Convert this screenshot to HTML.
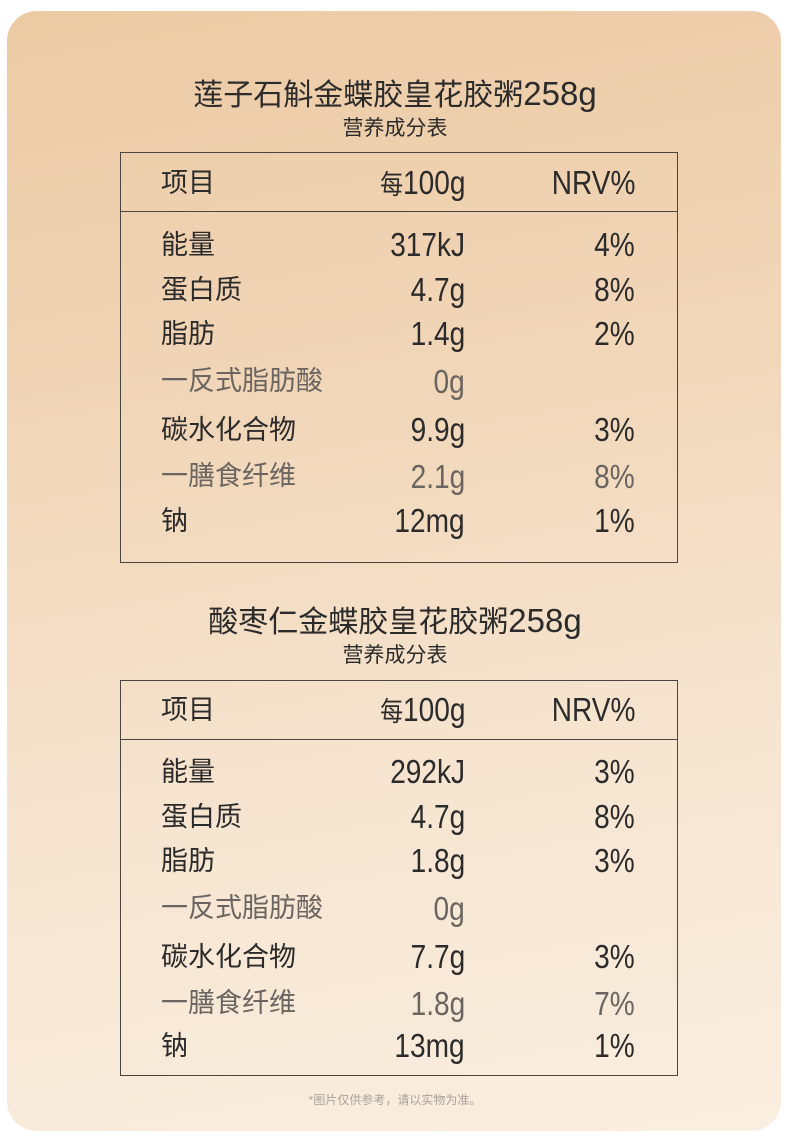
<!DOCTYPE html>
<html><head><meta charset="utf-8"><style>
body{margin:0;width:790px;height:1145px;background:#fff;position:relative;overflow:hidden;font-family:"Liberation Sans","Noto Sans CJK SC",sans-serif;color:#2b2b2b}
.card{position:absolute;left:7px;top:11px;width:774px;height:1120px;border-radius:30px;background:linear-gradient(170deg,#eccaa4 0%,#f1d6b8 35%,#f6e4cf 65%,#faeee0 100%)}
.t{position:absolute;left:0;width:790px;text-align:center;white-space:nowrap}
.box{position:absolute;left:120px;width:556px;border:1px solid #4a4540}
.hl{position:absolute;left:120px;width:558px;height:1px;background:#4a4540}
.lab{position:absolute;left:161px;font-size:27px;line-height:30px;white-space:nowrap}
.v{position:absolute;font-size:33px;line-height:34px;white-space:nowrap;transform:scaleX(.85);transform-origin:right center;text-align:right}
.v1{right:325px}.v2{right:155px}
.lt{color:#6a6560}
</style></head><body>
<div class="card"></div>

<div class="t" style="top:70px;font-size:30px">莲子石斛金蝶胶皇花胶粥<span style="font-size:33px">258g</span></div>
<div class="t" style="top:112px;font-size:21px">营养成分表</div>
<div class="box" style="top:152px;height:409px"></div>
<div class="hl" style="top:211px"></div>
<div class="lab" style="top:168px">项目</div>
<div class="v v1" style="top:166px"><span style="font-size:27px">每</span>100g</div>
<div class="v v2" style="top:166px">NRV%</div>

<div class="lab" style="top:230px">能量</div><div class="v v1" style="top:228px">317kJ</div><div class="v v2" style="top:228px">4%</div>
<div class="lab" style="top:275px">蛋白质</div><div class="v v1" style="top:273px">4.7g</div><div class="v v2" style="top:273px">8%</div>
<div class="lab" style="top:319px">脂肪</div><div class="v v1" style="top:317px">1.4g</div><div class="v v2" style="top:317px">2%</div>
<div class="lab lt" style="top:366px">一反式脂肪酸</div><div class="v v1 lt" style="top:365px">0g</div>
<div class="lab" style="top:415px">碳水化合物</div><div class="v v1" style="top:413px">9.9g</div><div class="v v2" style="top:413px">3%</div>
<div class="lab lt" style="top:461px">一膳食纤维</div><div class="v v1 lt" style="top:460px">2.1g</div><div class="v v2 lt" style="top:460px">8%</div>
<div class="lab" style="top:506px">钠</div><div class="v v1" style="top:504px">12mg</div><div class="v v2" style="top:504px">1%</div>

<div class="t" style="top:597px;font-size:30px">酸枣仁金蝶胶皇花胶粥<span style="font-size:33px">258g</span></div>
<div class="t" style="top:639px;font-size:21px">营养成分表</div>
<div class="box" style="top:680px;height:394px"></div>
<div class="hl" style="top:739px"></div>
<div class="lab" style="top:695px">项目</div>
<div class="v v1" style="top:693px"><span style="font-size:27px">每</span>100g</div>
<div class="v v2" style="top:693px">NRV%</div>

<div class="lab" style="top:757px">能量</div><div class="v v1" style="top:755px">292kJ</div><div class="v v2" style="top:755px">3%</div>
<div class="lab" style="top:802px">蛋白质</div><div class="v v1" style="top:800px">4.7g</div><div class="v v2" style="top:800px">8%</div>
<div class="lab" style="top:846px">脂肪</div><div class="v v1" style="top:844px">1.8g</div><div class="v v2" style="top:844px">3%</div>
<div class="lab lt" style="top:893px">一反式脂肪酸</div><div class="v v1 lt" style="top:892px">0g</div>
<div class="lab" style="top:942px">碳水化合物</div><div class="v v1" style="top:940px">7.7g</div><div class="v v2" style="top:940px">3%</div>
<div class="lab lt" style="top:988px">一膳食纤维</div><div class="v v1 lt" style="top:987px">1.8g</div><div class="v v2 lt" style="top:987px">7%</div>
<div class="lab" style="top:1031px">钠</div><div class="v v1" style="top:1029px">13mg</div><div class="v v2" style="top:1029px">1%</div>

<div class="t" style="top:1091px;font-size:12px;color:#aaa19a">*图片仅供参考，请以实物为准。</div>
</body></html>
